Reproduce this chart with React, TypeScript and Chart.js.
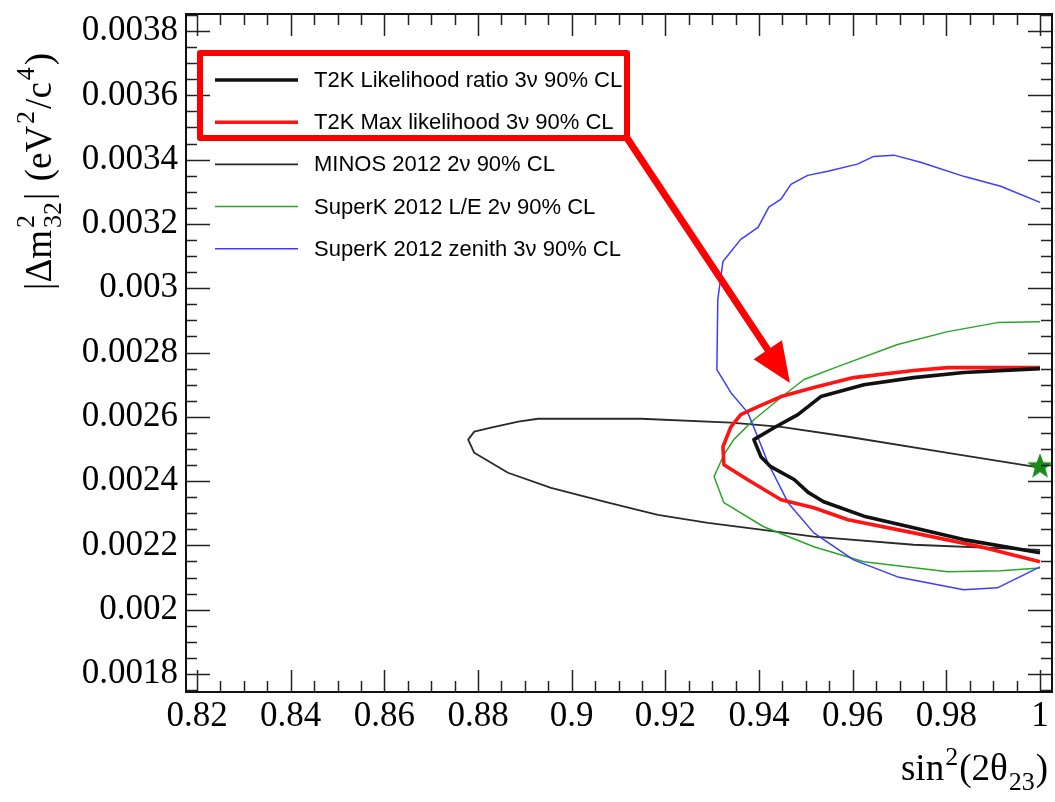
import React, { useEffect, useRef } from "react";
import { Chart, registerables } from "chart.js";

Chart.register(...registerables);

// ---- axis setup ----
const xTickValues = [0.82, 0.84, 0.86, 0.88, 0.9, 0.92, 0.94, 0.96, 0.98, 1.0];
const yTickValues = [0.0018, 0.002, 0.0022, 0.0024, 0.0026, 0.0028, 0.003, 0.0032, 0.0034, 0.0036, 0.0038];
const xRange = [0.81765, 1.00256];
const yRange = [0.001744, 0.003853];

// ---- series (sin^2(2θ23), |Δm²32|) ----
const t2kLikelihoodRatio: [number, number][] = [
  [1.0, 0.00275], [0.9837, 0.002738], [0.973, 0.002722], [0.9624, 0.0027], [0.9532, 0.002663],
  [0.9483, 0.002607], [0.9432, 0.002566], [0.9389, 0.002529], [0.9404, 0.002476], [0.9425, 0.002445],
  [0.9475, 0.002405], [0.9505, 0.002365], [0.9538, 0.002336], [0.9624, 0.002291], [0.973, 0.002255],
  [0.9837, 0.002218], [1.0, 0.002177],
];
const t2kMaxLikelihood: [number, number][] = [
  [1.0, 0.002753], [0.9803, 0.002753], [0.973, 0.002744], [0.9602, 0.002722], [0.9517, 0.002691],
  [0.9447, 0.002663], [0.9398, 0.002632], [0.9361, 0.002607], [0.934, 0.002569], [0.9323, 0.002507],
  [0.9325, 0.002451], [0.9376, 0.002404], [0.9447, 0.002342], [0.9517, 0.002317], [0.959, 0.00228],
  [0.973, 0.002239], [0.9873, 0.002196], [1.0, 0.002149],
];
const minos2012: [number, number][] = [
  [1.0, 0.002442], [0.9803, 0.002488], [0.959, 0.002538], [0.9447, 0.002569], [0.934, 0.002582],
  [0.9148, 0.002594], [0.8928, 0.002594], [0.8886, 0.002585], [0.8828, 0.002566], [0.8792, 0.002554],
  [0.8779, 0.002529], [0.8792, 0.002488], [0.8864, 0.002426], [0.8956, 0.002379], [0.9078, 0.002333],
  [0.9184, 0.002295], [0.9291, 0.00227], [0.9404, 0.002249], [0.9517, 0.002227], [0.973, 0.002202],
  [1.0, 0.002186],
];
const superKLE: [number, number][] = [
  [1.0, 0.002896], [0.9909, 0.002893], [0.9803, 0.002865], [0.9696, 0.002825], [0.9568, 0.002756],
  [0.9496, 0.002716], [0.9447, 0.00266], [0.9389, 0.002591], [0.9346, 0.002529], [0.9325, 0.002482],
  [0.9304, 0.002414], [0.9325, 0.002333], [0.941, 0.002258], [0.9517, 0.002196], [0.9624, 0.002149],
  [0.9803, 0.002118], [0.9916, 0.002121], [1.0, 0.00213],
];
const superKZenith: [number, number][] = [
  [1.0, 0.003267], [0.9916, 0.003317], [0.9837, 0.003348], [0.9745, 0.003392], [0.9688, 0.003414],
  [0.9645, 0.00341], [0.961, 0.003386], [0.9547, 0.003364], [0.9504, 0.003351], [0.9468, 0.003323],
  [0.9447, 0.003277], [0.9421, 0.003252], [0.9398, 0.003189], [0.9361, 0.003152], [0.9323, 0.003083],
  [0.9312, 0.002965], [0.931, 0.002747], [0.934, 0.002675], [0.9376, 0.002613], [0.9398, 0.002535],
  [0.9419, 0.002457], [0.9462, 0.002333], [0.9517, 0.002239], [0.9602, 0.002155], [0.9696, 0.002102],
  [0.9837, 0.002062], [0.9909, 0.002068], [1.0, 0.002133],
];
const bestFit: [number, number][] = [[1.0, 0.002448]];

const seriesLabels = [
  "T2K Likelihood ratio 3ν 90% CL",
  "T2K Max likelihood 3ν 90% CL",
  "MINOS 2012 2ν 90% CL",
  "SuperK 2012 L/E 2ν 90% CL",
  "SuperK 2012 zenith 3ν 90% CL",
];
const seriesColors = ["#111111", "#ff1414", "#2a2a2a", "#2aa52a", "#3c3cff"];
const seriesWidths = [3.6, 3.6, 1.8, 1.5, 1.5];

// arrow tip (data coords) pointing at the T2K contours
const arrowTip: [number, number] = [0.9466, 0.002705];

const SERIF = "'Liberation Serif', 'Times New Roman', serif";
const SANS = "'Liberation Sans', Arial, sans-serif";

const fmt = (v: number) => String(Number(v.toFixed(5)));

type Seg = { t: string; s: number; dy: number; stackWith?: Seg };

function segWidth(ctx: CanvasRenderingContext2D, seg: Seg) {
  ctx.font = `${seg.s}px ${SERIF}`;
  let w = ctx.measureText(seg.t).width;
  if (seg.stackWith) {
    ctx.font = `${seg.stackWith.s}px ${SERIF}`;
    w = Math.max(w, ctx.measureText(seg.stackWith.t).width);
  }
  return w;
}

function drawSegs(ctx: CanvasRenderingContext2D, segs: Seg[], startX: number, baseY: number, gap: number) {
  let x = startX;
  segs.forEach((seg) => {
    const w = segWidth(ctx, seg);
    ctx.font = `${seg.s}px ${SERIF}`;
    ctx.fillText(seg.t, x, baseY + seg.dy);
    if (seg.stackWith) {
      ctx.font = `${seg.stackWith.s}px ${SERIF}`;
      ctx.fillText(seg.stackWith.t, x, baseY + seg.stackWith.dy);
    }
    x += w + gap;
  });
}

function totalWidth(ctx: CanvasRenderingContext2D, segs: Seg[], gap: number) {
  return segs.reduce((a, s) => a + segWidth(ctx, s), 0) + gap * (segs.length - 1);
}

const rootPlugin = {
  id: "rootDecor",
  afterDatasetsDraw(chart: any) {
    const { ctx, chartArea: a, scales } = chart;
    const xs = scales.x;
    const ys = scales.y;
    ctx.save();
    ctx.strokeStyle = "#222";
    ctx.lineWidth = 1.5;
    ctx.beginPath();
    for (let i = 0; i <= 36; i++) {
      const v = 0.82 + i * 0.005;
      const px = Math.round(xs.getPixelForValue(v)) + 0.5;
      const len = i % 4 === 0 ? 22 : 11;
      ctx.moveTo(px, a.bottom);
      ctx.lineTo(px, a.bottom - len);
      ctx.moveTo(px, a.top);
      ctx.lineTo(px, a.top + len);
    }
    for (let i = 0; i <= 42; i++) {
      const v = 0.00175 + i * 0.00005;
      const py = Math.round(ys.getPixelForValue(v)) + 0.5;
      const len = (i - 1) % 4 === 0 ? 24 : 11;
      ctx.moveTo(a.left, py);
      ctx.lineTo(a.left + len, py);
      ctx.moveTo(a.right, py);
      ctx.lineTo(a.right - len, py);
    }
    ctx.stroke();
    ctx.lineWidth = 2;
    ctx.strokeStyle = "#111";
    ctx.strokeRect(a.left, a.top, a.right - a.left, a.bottom - a.top);
    ctx.restore();
  },
  afterDraw(chart: any) {
    const { ctx, chartArea: a, scales } = chart;
    ctx.save();
    ctx.fillStyle = "#000";
    ctx.textBaseline = "alphabetic";
    ctx.textAlign = "left";

    // x title: sin^2(2θ23)
    const xSegs: Seg[] = [
      { t: "sin", s: 37, dy: 0 },
      { t: "2", s: 26, dy: -15 },
      { t: "(2θ", s: 37, dy: 0 },
      { t: "23", s: 26, dy: 10 },
      { t: ")", s: 37, dy: 0 },
    ];
    const xGap = 1;
    const xw = totalWidth(ctx, xSegs, xGap);
    drawSegs(ctx, xSegs, a.right - 4 - xw, 780, xGap);

    // y title: |Δm²32| (eV²/c⁴)
    const ySegs: Seg[] = [
      { t: "|Δm", s: 37, dy: 0 },
      { t: "2", s: 26, dy: -17, stackWith: { t: "32", s: 26, dy: 10 } as Seg },
      { t: "| ", s: 37, dy: 0 },
      { t: "(eV", s: 37, dy: 0 },
      { t: "2", s: 26, dy: -17 },
      { t: "/c", s: 37, dy: 0 },
      { t: "4", s: 26, dy: -17 },
      { t: ")", s: 37, dy: 0 },
    ];
    const gaps = 2;
    const targetLen = 290 - 14;
    const natural = totalWidth(ctx, ySegs, gaps);
    const sc = Math.min(1, targetLen / natural);
    ctx.translate(51, 290);
    ctx.rotate(-Math.PI / 2);
    ctx.scale(sc, 1);
    drawSegs(ctx, ySegs, 0, 0, gaps);
    ctx.setTransform(1, 0, 0, 1, 0, 0);

    // legend
    const rowY0 = a.top + 66;
    const rowStep = 42.2;
    const lineX0 = a.left + 29;
    const lineX1 = a.left + 112;
    const textX = a.left + 128;
    chart.data.datasets.slice(0, seriesLabels.length).forEach((ds: any, i: number) => {
      const y = rowY0 + i * rowStep;
      ctx.strokeStyle = ds.borderColor;
      ctx.lineWidth = ds.borderWidth;
      ctx.beginPath();
      ctx.moveTo(lineX0, y);
      ctx.lineTo(lineX1, y);
      ctx.stroke();
      ctx.fillStyle = "#000";
      ctx.font = `22px ${SANS}`;
      ctx.textBaseline = "middle";
      ctx.fillText(ds.label, textX, y + 1);
    });

    // highlight box around T2K entries
    const bx0 = a.left + 14;
    const by0 = a.top + 39;
    const bx1 = a.left + 441;
    const by1 = a.top + 124;
    ctx.strokeStyle = "#ff0000";
    ctx.lineWidth = 6;
    ctx.lineJoin = "round";
    ctx.strokeRect(bx0, by0, bx1 - bx0, by1 - by0);

    // arrow
    const tx = scales.x.getPixelForValue(arrowTip[0]);
    const ty = scales.y.getPixelForValue(arrowTip[1]);
    const sx = bx1;
    const sy = by1;
    const ang = Math.atan2(ty - sy, tx - sx);
    const headLen = 40;
    const headHalf = 17;
    const bxh = tx - headLen * Math.cos(ang);
    const byh = ty - headLen * Math.sin(ang);
    ctx.lineWidth = 7;
    ctx.lineCap = "butt";
    ctx.beginPath();
    ctx.moveTo(sx, sy);
    ctx.lineTo(bxh + 2 * Math.cos(ang), byh + 2 * Math.sin(ang));
    ctx.stroke();
    ctx.fillStyle = "#ff0000";
    ctx.beginPath();
    ctx.moveTo(tx, ty);
    ctx.lineTo(bxh - headHalf * Math.sin(ang), byh + headHalf * Math.cos(ang));
    ctx.lineTo(bxh + headHalf * Math.sin(ang), byh - headHalf * Math.cos(ang));
    ctx.closePath();
    ctx.fill();
    ctx.restore();
  },
};

function makeStar(): HTMLCanvasElement {
  const c = document.createElement("canvas");
  c.width = 30;
  c.height = 30;
  const g = c.getContext("2d")!;
  g.fillStyle = "#1a8a1a";
  g.beginPath();
  const R = 13.5;
  const r = 5.6;
  for (let i = 0; i < 10; i++) {
    const rad = i % 2 === 0 ? R : r;
    const an = -Math.PI / 2 + (i * Math.PI) / 5;
    const px = 15 + rad * Math.cos(an);
    const py = 16 + rad * Math.sin(an);
    if (i === 0) g.moveTo(px, py);
    else g.lineTo(px, py);
  }
  g.closePath();
  g.fill();
  return c;
}

const noPad = (s: any) => {
  s.paddingTop = 0;
  s.paddingBottom = 0;
  s.paddingLeft = 0;
  s.paddingRight = 0;
};

export default function App() {
  const ref = useRef<HTMLCanvasElement | null>(null);

  useEffect(() => {
    document.body.style.margin = "0";
    const canvas = ref.current!;
    const toPts = (arr: [number, number][]) => arr.map(([x, y]) => ({ x, y }));
    const lines = [t2kLikelihoodRatio, t2kMaxLikelihood, minos2012, superKLE, superKZenith];
    const datasets: any[] = lines.map((arr, i) => ({
      label: seriesLabels[i],
      data: toPts(arr),
      borderColor: seriesColors[i],
      borderWidth: seriesWidths[i],
      showLine: true,
      pointRadius: 0,
      tension: 0,
      fill: false,
      borderJoinStyle: "round",
    }));
    datasets[0].order = 1;
    datasets[1].order = 2;
    datasets[2].order = 5;
    datasets[3].order = 4;
    datasets[4].order = 3;
    datasets.push({
      label: "best fit",
      data: toPts(bestFit),
      pointStyle: makeStar(),
      pointRadius: 15,
      showLine: false,
      order: 0,
      clip: false,
    });

    const chart = new Chart(canvas, {
      type: "scatter",
      data: { datasets },
      options: {
        responsive: false,
        animation: false,
        events: [],
        layout: { autoPadding: false, padding: { top: 14, right: 3, left: 0, bottom: 0 } },
        plugins: { legend: { display: false }, tooltip: { enabled: false } },
        scales: {
          x: {
            type: "linear",
            min: xRange[0],
            max: xRange[1],
            grid: { display: false, drawTicks: false },
            border: { display: false },
            afterFit: (s: any) => { s.height = 110; noPad(s); },
            afterBuildTicks: (s: any) => { s.ticks = xTickValues.map((value) => ({ value })); },
            ticks: {
              autoSkip: false,
              maxRotation: 0,
              padding: 4,
              color: "#000",
              font: { family: SERIF, size: 35 },
              callback: (v: any) => fmt(Number(v)),
            },
          },
          y: {
            type: "linear",
            min: yRange[0],
            max: yRange[1],
            grid: { display: false, drawTicks: false },
            border: { display: false },
            afterFit: (s: any) => { s.width = 186; noPad(s); },
            afterBuildTicks: (s: any) => { s.ticks = yTickValues.map((value) => ({ value })); },
            ticks: {
              autoSkip: false,
              padding: 8,
              color: "#000",
              font: { family: SERIF, size: 35 },
              callback: (v: any) => fmt(Number(v)),
            },
          },
        },
      },
      plugins: [rootPlugin],
    });
    return () => chart.destroy();
  }, []);

  return (
    <div style={{ position: "absolute", left: 0, top: 0, width: 1055, height: 802, background: "#fff" }}>
      <canvas ref={ref} width={1055} height={802} style={{ display: "block" }} />
    </div>
  );
}
